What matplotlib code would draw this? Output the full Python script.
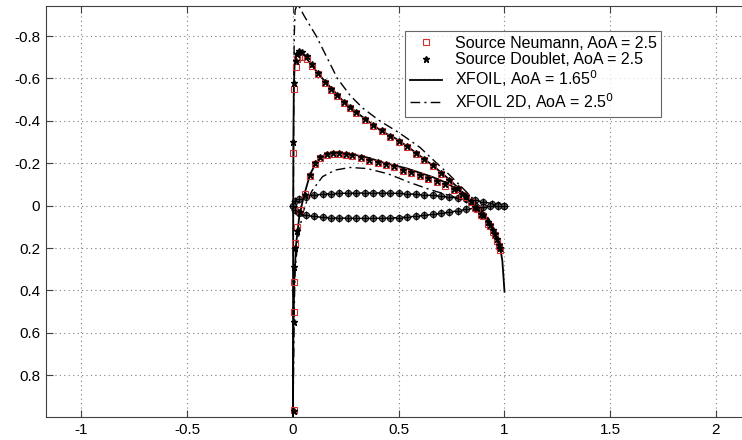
import matplotlib
matplotlib.use("Agg")
import matplotlib.pyplot as plt

plt.rcParams['font.family'] = ['Liberation Sans', 'DejaVu Sans']

# airfoil outline (drawn on the Cp axes)
foil_up_x = [0.0, 0.01, 0.03, 0.06, 0.1, 0.14, 0.18, 0.22, 0.26, 0.3, 0.34, 0.38, 0.42, 0.46,
             0.5, 0.54, 0.58, 0.62, 0.66, 0.7, 0.74, 0.78, 0.82, 0.86, 0.9, 0.94, 0.97, 1.0]
foil_up_y = [0.0, -0.02, -0.033, -0.043, -0.05, -0.054, -0.057, -0.058, -0.059, -0.06, -0.06, -0.06,
             -0.06, -0.059, -0.058, -0.056, -0.054, -0.051, -0.048, -0.045, -0.041, -0.036, -0.031,
             -0.025, -0.018, -0.01, -0.004, 0.0]
foil_lo_x = [0.0, 0.01, 0.03, 0.06, 0.1, 0.14, 0.18, 0.22, 0.26, 0.3, 0.34, 0.38, 0.42, 0.46,
             0.5, 0.54, 0.58, 0.62, 0.66, 0.7, 0.74, 0.78, 0.82, 0.86, 0.9, 0.93, 0.97, 1.0]
foil_lo_y = [0.0, 0.022, 0.036, 0.045, 0.051, 0.055, 0.057, 0.058, 0.059, 0.06, 0.06, 0.06, 0.059,
             0.058, 0.056, 0.053, 0.05, 0.046, 0.041, 0.036, 0.03, 0.024, 0.018, 0.011, 0.004, 0.0,
             0.0, 0.0]

# panel method results, upper surface
up_x = [0.002, 0.006, 0.012, 0.02, 0.03, 0.045, 0.065, 0.09, 0.12, 0.15, 0.18, 0.21, 0.24, 0.27,
        0.30, 0.34, 0.38, 0.42, 0.46, 0.50, 0.54, 0.58, 0.62, 0.66, 0.70, 0.74, 0.78, 0.82, 0.86,
        0.89, 0.92, 0.945, 0.965, 0.98]
neu_up = [-0.25, -0.55, -0.655, -0.69, -0.70, -0.70, -0.69, -0.66, -0.62, -0.58, -0.545, -0.515,
          -0.485, -0.46, -0.435, -0.405, -0.375, -0.35, -0.325, -0.30, -0.275, -0.245, -0.215,
          -0.185, -0.15, -0.115, -0.08, -0.04, 0.01, 0.045, 0.085, 0.125, 0.165, 0.21]
dbl_up = [-0.30, -0.58, -0.68, -0.715, -0.73, -0.725, -0.705, -0.67, -0.625, -0.585, -0.55, -0.52,
          -0.49, -0.465, -0.44, -0.41, -0.38, -0.355, -0.33, -0.305, -0.28, -0.25, -0.22, -0.19,
          -0.155, -0.12, -0.085, -0.045, 0.005, 0.04, 0.075, 0.115, 0.155, 0.2]

# panel method results, lower surface
lo_x = [0.003, 0.004, 0.006, 0.01, 0.02, 0.035, 0.055, 0.08, 0.105, 0.13, 0.16, 0.19, 0.22, 0.25,
        0.28, 0.32, 0.36, 0.40, 0.44, 0.48, 0.52, 0.56, 0.60, 0.64, 0.68, 0.72, 0.76, 0.80, 0.84,
        0.87, 0.90, 0.93, 0.955, 0.975]
neu_lo = [0.965, 0.5, 0.36, 0.175, 0.1, 0.02, -0.055, -0.14, -0.195, -0.225, -0.24, -0.245, -0.245,
          -0.24, -0.235, -0.225, -0.21, -0.2, -0.19, -0.18, -0.165, -0.155, -0.14, -0.125, -0.11,
          -0.095, -0.075, -0.05, -0.015, 0.015, 0.05, 0.095, 0.14, 0.19]
dbl_lo = [0.97, 0.55, 0.29, 0.2, 0.12, 0.03, -0.05, -0.145, -0.2, -0.23, -0.245, -0.25, -0.25,
          -0.245, -0.24, -0.23, -0.215, -0.205, -0.195, -0.185, -0.17, -0.16, -0.145, -0.13,
          -0.115, -0.1, -0.08, -0.055, -0.02, 0.01, 0.045, 0.09, 0.135, 0.185]

# XFOIL, AoA = 1.65
xf_up_x = [0.0, 0.0005, 0.001, 0.002, 0.004, 0.008, 0.015, 0.025, 0.04, 0.06, 0.09, 0.13, 0.18,
           0.24, 0.3, 0.36, 0.42, 0.48, 0.54, 0.6, 0.66, 0.72, 0.78, 0.84, 0.89, 0.93, 0.96, 0.98,
           0.99, 1.0]
xf_up_cp = [1.0, 0.6, 0.1, -0.3, -0.55, -0.67, -0.715, -0.73, -0.725, -0.70, -0.66, -0.61, -0.555,
            -0.49, -0.44, -0.395, -0.35, -0.32, -0.28, -0.235, -0.19, -0.14, -0.085, -0.02, 0.035,
            0.09, 0.15, 0.2, 0.26, 0.405]
xf_lo_x = [0.0, 0.002, 0.006, 0.015, 0.03, 0.05, 0.08, 0.11, 0.15, 0.2, 0.25, 0.3, 0.36, 0.42,
           0.48, 0.54, 0.6, 0.66, 0.72, 0.78, 0.84, 0.89, 0.93, 0.96, 0.98]
xf_lo_cp = [1.0, 0.6, 0.36, 0.18, 0.05, -0.04, -0.145, -0.205, -0.24, -0.25, -0.248, -0.238,
            -0.225, -0.205, -0.19, -0.175, -0.155, -0.135, -0.11, -0.075, -0.025, 0.02, 0.075,
            0.14, 0.2]

# XFOIL 2D, AoA = 2.5
xf2_up_x = [0.0, 0.001, 0.002, 0.004, 0.006, 0.01, 0.02, 0.035, 0.05, 0.08, 0.11, 0.16, 0.21,
            0.27, 0.33, 0.41, 0.5, 0.6, 0.68, 0.74, 0.79, 0.84, 0.88, 0.92, 0.95, 0.98]
xf2_up_cp = [1.0, 0.5, 0.0, -0.55, -0.8, -0.92, -0.95, -0.93, -0.9, -0.85, -0.8, -0.7, -0.6, -0.52,
             -0.46, -0.40, -0.345, -0.275, -0.2, -0.145, -0.095, -0.045, 0.0, 0.05, 0.11, 0.2]
xf2_lo_x = [0.0, 0.003, 0.006, 0.01, 0.02, 0.03, 0.045, 0.065, 0.09, 0.14, 0.2, 0.27, 0.35, 0.45,
            0.55, 0.65, 0.75, 0.82, 0.88, 0.93, 0.96, 0.98]
xf2_lo_cp = [1.0, 0.75, 0.5, 0.3, 0.2, 0.12, 0.04, -0.02, -0.07, -0.137, -0.168, -0.18, -0.175,
             -0.15, -0.11, -0.075, -0.045, -0.02, 0.02, 0.08, 0.14, 0.2]

xticks = [-1, -0.5, 0, 0.5, 1, 1.5, 2]
xtick_labels = ['-1', '-0.5', '0', '0.5', '1', '1.5', '2']
yticks = [-0.8, -0.6, -0.4, -0.2, 0, 0.2, 0.4, 0.6, 0.8]
ytick_labels = ['-0.8', '-0.6', '-0.4', '-0.2', '0', '0.2', '0.4', '0.6', '0.8']

fig = plt.figure(figsize=(7.42, 4.40), dpi=100)
ax = fig.add_axes([0.0616, 0.0516, 0.9384, 0.9355])

dashdot = (0, (7, 3, 1.5, 3))

# airfoil
for fx, fy in [(foil_up_x, foil_up_y), (foil_lo_x, foil_lo_y)]:
    ax.plot(fx, fy, '-', color='k', lw=1.0, marker='o', ms=4.5, mfc='#606060', mec='k', mew=0.6)
    ax.plot(fx, fy, '+', color='k', ms=6, mew=0.9)

# XFOIL curves
ax.plot(xf_up_x, xf_up_cp, '-', color='k', lw=1.3, label='XFOIL, AoA = 1.65$^0$')
ax.plot(xf_lo_x, xf_lo_cp, '-', color='k', lw=1.3)
ax.plot(xf2_up_x, xf2_up_cp, linestyle=dashdot, color='k', lw=1.0,
        label='XFOIL 2D, AoA = 2.5$^0$')
ax.plot(xf2_lo_x, xf2_lo_cp, linestyle=dashdot, color='k', lw=1.0)

# panel methods
ax.plot(up_x, neu_up, 's', color='#d03030', ms=4.5, mfc='none', mew=0.8,
        label='Source Neumann, AoA = 2.5')
ax.plot(lo_x, neu_lo, 's', color='#d03030', ms=4.5, mfc='none', mew=0.8)
ax.plot(up_x, dbl_up, '*', color='k', ms=5, label='Source Doublet, AoA = 2.5')
ax.plot(lo_x, dbl_lo, '*', color='k', ms=5)

ax.set_xlim(-1.169, 2.123)
ax.set_ylim(0.998, -0.943)  # Cp axis inverted

ax.set_xticks(xticks)
ax.set_xticklabels(xtick_labels)
ax.set_yticks(yticks)
ax.set_yticklabels(ytick_labels)
ax.tick_params(direction='in', length=5, labelsize=11, colors='#404040', labelcolor='k',
               top=True, pad=4)
ax.grid(True, linestyle=(0, (1, 3)), color='#808080', lw=0.8)
for s in ['left', 'bottom', 'top']:
    ax.spines[s].set_color('#404040')
ax.spines['right'].set_visible(False)

handles, labels = ax.get_legend_handles_labels()
order = [2, 3, 0, 1]
leg = ax.legend([handles[i] for i in order], [labels[i] for i in order],
                loc='upper left', bbox_to_anchor=(0.516, 0.939), borderaxespad=0,
                fontsize=11.5, frameon=True, fancybox=False, handlelength=2.0,
                labelspacing=0.1, borderpad=0.3, handletextpad=0.8)
leg.get_frame().set_edgecolor('#404040')
leg.get_frame().set_linewidth(0.8)

plt.savefig('out.png', dpi=100)
